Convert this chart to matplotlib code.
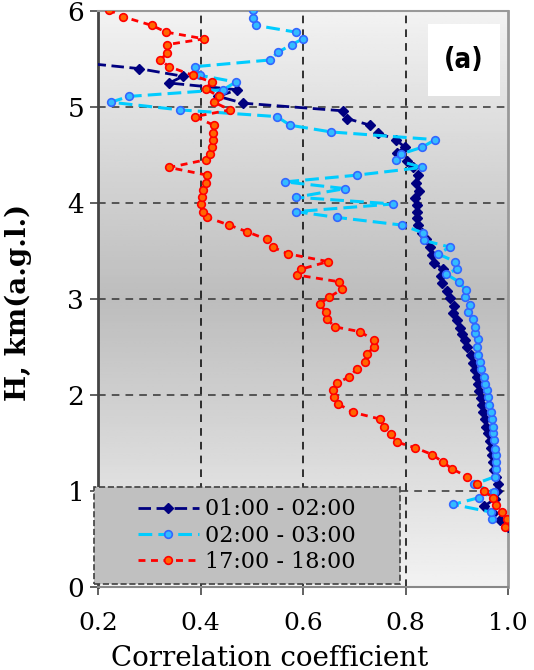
import numpy as np
import matplotlib
matplotlib.use('Agg')
import matplotlib.pyplot as plt
from matplotlib.patches import Rectangle

# series 1: 01:00 - 02:00 (navy diamonds)
h1 = [0.62, 0.70, 0.77, 0.84, 0.92, 1.00, 1.07, 1.15, 1.22, 1.30, 1.37, 1.45, 1.52, 1.60,
      1.67, 1.75, 1.82, 1.90, 1.97, 2.04, 2.11, 2.19, 2.26, 2.33, 2.42, 2.50, 2.57, 2.64,
      2.70, 2.78, 2.85, 2.93, 3.01, 3.08, 3.17, 3.24, 3.31, 3.38, 3.46, 3.54, 3.62, 3.69,
      3.77, 3.84, 3.91, 3.98, 4.05, 4.13, 4.21, 4.29, 4.37, 4.44, 4.52, 4.58, 4.66, 4.73,
      4.81, 4.88, 4.96, 5.04, 5.11, 5.18, 5.25, 5.32, 5.40, 5.47]
r1 = [1.000, 0.984, 0.970, 0.953, 0.975, 0.978, 0.980, 0.976, 0.973, 0.971, 0.969, 0.967, 0.964, 0.961,
      0.958, 0.955, 0.952, 0.950, 0.947, 0.944, 0.942, 0.940, 0.936, 0.932, 0.928, 0.920, 0.916, 0.910,
      0.906, 0.900, 0.893, 0.895, 0.887, 0.881, 0.871, 0.870, 0.873, 0.855, 0.852, 0.848, 0.840, 0.832,
      0.824, 0.822, 0.822, 0.822, 0.818, 0.826, 0.820, 0.824, 0.815, 0.803, 0.783, 0.799, 0.781, 0.746,
      0.731, 0.686, 0.678, 0.483, 0.435, 0.471, 0.339, 0.366, 0.280, 0.150]

# series 2: 02:00 - 03:00 (light blue circles)
h2 = [0.71, 0.78, 0.86, 0.93, 0.99, 1.07, 1.15, 1.23, 1.30, 1.37, 1.44, 1.53, 1.60, 1.67,
      1.75, 1.82, 1.90, 1.98, 2.05, 2.11, 2.19, 2.27, 2.34, 2.42, 2.50, 2.58, 2.65, 2.71,
      2.79, 2.86, 2.94, 3.02, 3.09, 3.18, 3.26, 3.31, 3.39, 3.47, 3.54, 3.61, 3.69, 3.77,
      3.85, 3.91, 3.99, 4.06, 4.15, 4.22, 4.29, 4.37, 4.45, 4.51, 4.58, 4.66, 4.74, 4.81,
      4.90, 4.97, 5.05, 5.11, 5.18, 5.26, 5.33, 5.42, 5.49, 5.57, 5.65, 5.71, 5.78, 5.85,
      5.93, 6.01, 6.08]
r2 = [0.969, 0.967, 0.893, 0.943, 0.973, 0.934, 0.975, 0.976, 0.977, 0.976, 0.975, 0.972, 0.971, 0.970,
      0.968, 0.966, 0.963, 0.961, 0.959, 0.955, 0.953, 0.947, 0.945, 0.942, 0.940, 0.942, 0.936, 0.936,
      0.932, 0.922, 0.926, 0.916, 0.918, 0.904, 0.879, 0.900, 0.897, 0.863, 0.887, 0.836, 0.834, 0.793,
      0.666, 0.586, 0.776, 0.586, 0.682, 0.565, 0.705, 0.832, 0.781, 0.791, 0.832, 0.858, 0.655, 0.575,
      0.549, 0.360, 0.225, 0.260, 0.444, 0.469, 0.399, 0.389, 0.536, 0.551, 0.578, 0.600, 0.586, 0.508,
      0.502, 0.502, 0.400]

# series 3: 17:00 - 18:00 (orange circles)
h3 = [0.63, 0.71, 0.78, 0.85, 0.93, 1.00, 1.07, 1.15, 1.23, 1.30, 1.38, 1.45, 1.51, 1.59,
      1.67, 1.75, 1.82, 1.91, 1.98, 2.05, 2.12, 2.19, 2.27, 2.34, 2.43, 2.50, 2.57, 2.66,
      2.71, 2.79, 2.86, 2.95, 3.02, 3.10, 3.18, 3.25, 3.31, 3.39, 3.47, 3.54, 3.62, 3.70,
      3.77, 3.85, 3.91, 3.99, 4.06, 4.14, 4.21, 4.29, 4.37, 4.45, 4.51, 4.58, 4.66, 4.73,
      4.81, 4.90, 4.97, 5.05, 5.11, 5.19, 5.26, 5.33, 5.42, 5.49, 5.56, 5.65, 5.71, 5.78,
      5.85, 5.94, 6.01]
r3 = [0.994, 0.998, 0.988, 0.976, 0.971, 0.953, 0.940, 0.920, 0.891, 0.873, 0.852, 0.819, 0.783, 0.772,
      0.758, 0.750, 0.697, 0.668, 0.660, 0.658, 0.666, 0.690, 0.705, 0.721, 0.725, 0.739, 0.739, 0.711,
      0.662, 0.647, 0.645, 0.633, 0.651, 0.676, 0.670, 0.588, 0.596, 0.649, 0.571, 0.541, 0.530, 0.491,
      0.456, 0.413, 0.405, 0.401, 0.403, 0.405, 0.410, 0.413, 0.339, 0.410, 0.418, 0.422, 0.424, 0.424,
      0.426, 0.389, 0.458, 0.426, 0.436, 0.410, 0.422, 0.385, 0.339, 0.321, 0.335, 0.335, 0.407, 0.333,
      0.305, 0.249, 0.222]

labels = ['01:00 - 02:00', '02:00 - 03:00', '17:00 - 18:00']
xticks = [0.2, 0.4, 0.6, 0.8, 1.0]
yticks = [0, 1, 2, 3, 4, 5, 6]

serif = 'DejaVu Serif'

fig = plt.figure(figsize=(5.34, 6.7), dpi=100)
ax = fig.add_axes([98 / 534, 1 - 587 / 670, 410 / 534, 576 / 670])

# grey gradient background, darkest around the middle
yy = np.linspace(0, 1, 200)
shade = 0.95 - 0.21 * (1 - np.abs(yy - 0.5) / 0.5)
ax.imshow(shade[:, None], extent=[0.2, 1.0, 0, 6], origin='lower', aspect='auto',
          cmap='gray', vmin=0, vmax=1, zorder=0)

for v in [0.4, 0.6, 0.8]:
    ax.axvline(v, color='black', lw=1.1, ls=(0, (5, 4)), zorder=1)
for v in [1, 2, 3, 4, 5]:
    ax.axhline(v, color='#333333', lw=1.1, ls=(0, (5, 4)), zorder=1)

ax.plot(r1, h1, color='#000080', lw=2.0, dashes=(4.5, 2), marker='D', markersize=5.5,
        markerfacecolor='#000080', markeredgecolor='#000080', label=labels[0], zorder=3)
ax.plot(r2, h2, color='#00ccff', lw=2.2, dashes=(4.5, 2), marker='o', markersize=5.5,
        markerfacecolor='#33bbff', markeredgecolor='#3366ff', markeredgewidth=1.2,
        label=labels[1], zorder=4)
ax.plot(r3, h3, color='#ff0000', lw=2.0, dashes=(2.5, 2), marker='o', markersize=5.5,
        markerfacecolor='#ff6600', markeredgecolor='#ff0000', markeredgewidth=1.2,
        label=labels[2], zorder=5)

ax.set_xlim(0.2, 1.0)
ax.set_ylim(0, 6)
ax.set_xticks(xticks)
ax.set_xticklabels(['%.1f' % v for v in xticks])
ax.set_yticks(yticks)
ax.tick_params(axis='x', direction='out', length=6, width=1.3, pad=12, labelsize=18, color='#555555')
ax.tick_params(axis='y', direction='out', length=6, width=1.3, pad=4, labelsize=19, color='#555555')
for lab in ax.get_xticklabels() + ax.get_yticklabels():
    lab.set_family(serif)

ax.spines['left'].set_color('#444444')
ax.spines['left'].set_linewidth(2)
ax.spines['bottom'].set_color('#888888')
ax.spines['bottom'].set_linewidth(1.5)
ax.spines['top'].set_color('#999999')
ax.spines['top'].set_linewidth(1.5)
ax.spines['right'].set_color('#999999')
ax.spines['right'].set_linewidth(2)

fig.text(270 / 534, 1 - 658 / 670, 'Correlation coefficient', family=serif, fontsize=20,
         ha='center', va='center')
fig.text(18 / 534, 1 - 302 / 670, 'H, km(a.g.l.)', family=serif, fontsize=20, fontweight='bold',
         rotation=90, ha='center', va='center')

# legend box
ax.add_patch(Rectangle((-0.0098, 0.0052), 0.746, 0.168, transform=ax.transAxes,
                       facecolor='#c0c0c0', edgecolor='#404040', lw=1.2, ls='--',
                       clip_on=False, zorder=6))
leg = ax.legend(loc='center', bbox_to_anchor=(0.363, 0.089), frameon=False,
                prop={'family': serif, 'size': 16}, handlelength=2.75, handletextpad=0.3,
                labelspacing=0.2, numpoints=1, borderpad=0)
leg.set_zorder(7)

# panel tag
ax.add_patch(Rectangle((0.805, 0.852), 0.176, 0.125, transform=ax.transAxes,
                       facecolor='white', edgecolor='none', zorder=6))
fig.text(464 / 534, 1 - 60 / 670, '(a)', family=['Liberation Sans Narrow', 'DejaVu Sans'],
         fontsize=20, fontweight='bold', stretch='condensed', ha='center', va='center')

fig.savefig('out.png', dpi=100)
